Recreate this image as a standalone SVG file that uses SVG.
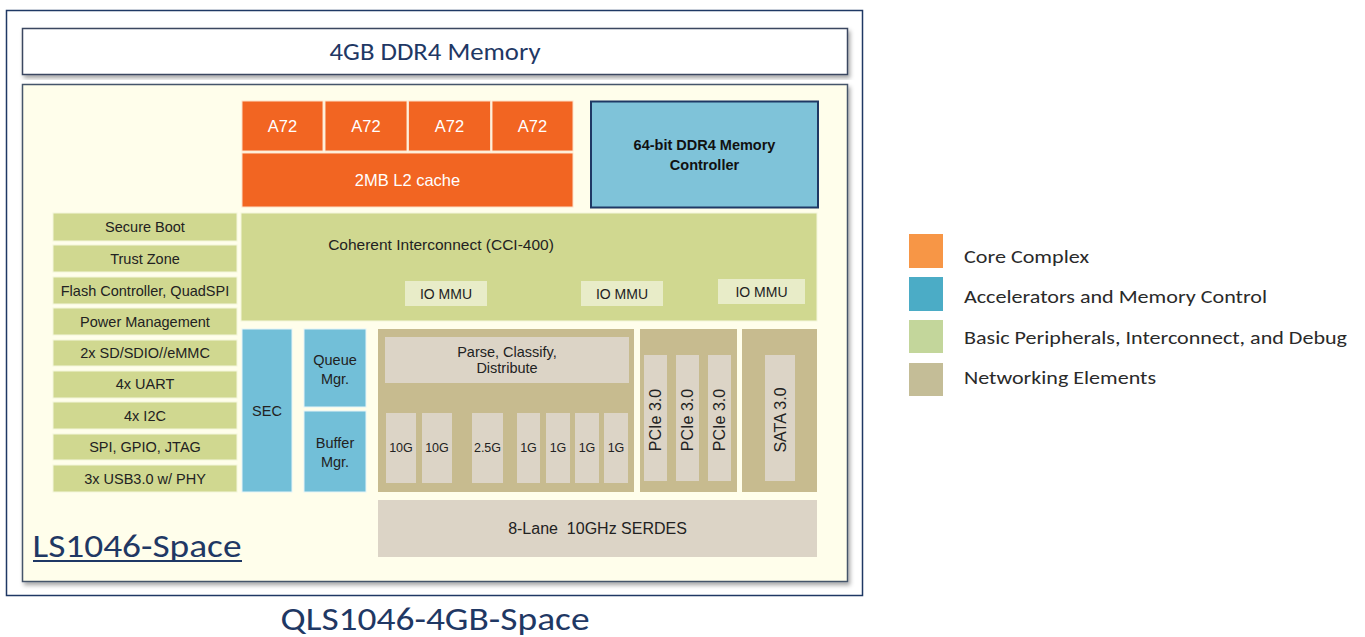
<svg xmlns="http://www.w3.org/2000/svg" width="1365" height="637" viewBox="0 0 1365 637">
<defs>
<filter id="sh" x="-5%" y="-5%" width="110%" height="115%"><feDropShadow dx="2" dy="3" stdDeviation="2" flood-color="#000" flood-opacity="0.35"/></filter>
<style>
.a{font-family:"Liberation Sans",Arial,sans-serif;fill:#222;text-anchor:middle}
.c{font-family:Carlito,"Open Sans","Liberation Sans",sans-serif;fill:#1f3864;text-anchor:middle}
.l{font-family:Carlito,"Open Sans","Liberation Sans",sans-serif;fill:#2a2a2a;font-size:18px}
.core{fill:#f26522;stroke:#fde0c8;stroke-width:1}
.per{fill:#d0d890;stroke:#f4f6dc;stroke-width:1}
.acc{fill:#72bfd8;stroke:#e6f4f8;stroke-width:1}
.net{fill:#c7bb8f}
.nin{fill:#dcd4c6}
.mmu{fill:#e8ecc8}
</style>
</defs>
<rect width="1365" height="637" fill="#fff"/>
<rect x="6.5" y="10.5" width="856" height="585" fill="#fff" stroke="#1f3864" stroke-width="1.5"/>
<g id="memory">
<rect x="22.5" y="28.5" width="825" height="46" fill="#fff" stroke="#3b4660" stroke-width="1.5" filter="url(#sh)"/>
<text class="c" x="435" y="60" font-size="25" textLength="211" lengthAdjust="spacingAndGlyphs">4GB DDR4 Memory</text>
</g>
<g id="soc">
<rect x="22.5" y="84.5" width="825" height="497" fill="#fffeeb" stroke="#44546a" stroke-width="1.5" filter="url(#sh)"/>
<text class="c" x="137" y="557" font-size="33" textLength="209" lengthAdjust="spacingAndGlyphs">LS1046-Space</text>
<rect x="33" y="560" width="209" height="2" fill="#1f3864"/>
</g>
<g id="a72-1"><rect class="core" x="242" y="101" width="81" height="50"/><text class="a" x="282.5" y="132" font-size="16.5" style="fill:#fff">A72</text></g>
<g id="a72-2"><rect class="core" x="325" y="101" width="82" height="50"/><text class="a" x="366" y="132" font-size="16.5" style="fill:#fff">A72</text></g>
<g id="a72-3"><rect class="core" x="408.5" y="101" width="82" height="50"/><text class="a" x="449.5" y="132" font-size="16.5" style="fill:#fff">A72</text></g>
<g id="a72-4"><rect class="core" x="492" y="101" width="81" height="50"/><text class="a" x="532.5" y="132" font-size="16.5" style="fill:#fff">A72</text></g>
<g id="l2"><rect class="core" x="242" y="153" width="331" height="54"/><text class="a" x="407.5" y="186" font-size="16.5" style="fill:#fff">2MB L2 cache</text></g>
<g id="memctrl"><rect x="591" y="101.5" width="227" height="106" fill="#7fc3d9" stroke="#1f3864" stroke-width="2"/>
<text class="a" x="704.5" y="150" font-size="14.5" font-weight="bold" style="fill:#111">64-bit DDR4 Memory</text>
<text class="a" x="704.5" y="170" font-size="14.5" font-weight="bold" style="fill:#111">Controller</text></g>
<g id="periph">
<g id="p1"><rect class="per" x="53" y="213" width="184" height="28"/><text class="a" x="145" y="232" font-size="14.5">Secure Boot</text></g>
<g id="p2"><rect class="per" x="53" y="245" width="184" height="27"/><text class="a" x="145" y="264" font-size="14.5">Trust Zone</text></g>
<g id="p3"><rect class="per" x="53" y="277" width="184" height="27"/><text class="a" x="145" y="296" font-size="14.5">Flash Controller, QuadSPI</text></g>
<g id="p4"><rect class="per" x="53" y="308" width="184" height="27"/><text class="a" x="145" y="327" font-size="14.5">Power Management</text></g>
<g id="p5"><rect class="per" x="53" y="340" width="184" height="26"/><text class="a" x="145" y="358" font-size="14.5">2x SD/SDIO//eMMC</text></g>
<g id="p6"><rect class="per" x="53" y="371" width="184" height="27"/><text class="a" x="145" y="389" font-size="14.5">4x UART</text></g>
<g id="p7"><rect class="per" x="53" y="402" width="184" height="27"/><text class="a" x="145" y="421" font-size="14.5">4x I2C</text></g>
<g id="p8"><rect class="per" x="53" y="434" width="184" height="26"/><text class="a" x="145" y="452" font-size="14.5">SPI, GPIO, JTAG</text></g>
<g id="p9"><rect class="per" x="53" y="465" width="184" height="27"/><text class="a" x="145" y="484" font-size="14.5">3x USB3.0 w/ PHY</text></g>
</g>
<g id="cci"><rect class="per" x="241" y="213" width="576" height="108"/>
<text class="a" x="441" y="250" font-size="15.5">Coherent Interconnect (CCI-400)</text>
<rect class="mmu" x="405" y="281" width="82" height="25"/><text class="a" x="446" y="299" font-size="14">IO MMU</text>
<rect class="mmu" x="581" y="281" width="82" height="25"/><text class="a" x="622" y="299" font-size="14">IO MMU</text>
<rect class="mmu" x="718" y="279" width="87" height="25"/><text class="a" x="761.5" y="297" font-size="14">IO MMU</text>
</g>
<g id="sec"><rect class="acc" x="242" y="329" width="50" height="163"/><text class="a" x="267" y="416" font-size="14.5">SEC</text></g>
<g id="qman"><rect class="acc" x="304" y="329" width="62" height="78"/><text class="a" x="335" y="365" font-size="14.5">Queue</text><text class="a" x="335" y="384" font-size="14.5">Mgr.</text></g>
<g id="bman"><rect class="acc" x="304" y="411" width="62" height="81"/><text class="a" x="335" y="448" font-size="14.5">Buffer</text><text class="a" x="335" y="467" font-size="14.5">Mgr.</text></g>
<g id="fman"><rect class="net" x="378" y="329" width="256" height="163"/>
<rect class="nin" x="385" y="337" width="244" height="46"/>
<text class="a" x="507" y="357" font-size="14.5">Parse, Classify,</text><text class="a" x="507" y="373" font-size="14.5">Distribute</text>
<rect class="nin" x="386" y="413" width="30" height="70"/><text class="a" x="401" y="452" font-size="12.5">10G</text>
<rect class="nin" x="422" y="413" width="30" height="70"/><text class="a" x="437" y="452" font-size="12.5">10G</text>
<rect class="nin" x="472" y="413" width="31" height="70"/><text class="a" x="487.5" y="452" font-size="12.5">2.5G</text>
<rect class="nin" x="517" y="413" width="23" height="70"/><text class="a" x="528.5" y="452" font-size="12.5">1G</text>
<rect class="nin" x="546" y="413" width="24" height="70"/><text class="a" x="558" y="452" font-size="12.5">1G</text>
<rect class="nin" x="575" y="413" width="24" height="70"/><text class="a" x="587" y="452" font-size="12.5">1G</text>
<rect class="nin" x="604" y="413" width="24" height="70"/><text class="a" x="616" y="452" font-size="12.5">1G</text>
</g>
<g id="pcie"><rect class="net" x="640" y="329" width="97" height="163"/>
<rect class="nin" x="644" y="355" width="23" height="126"/><text class="a" transform="translate(661 420) rotate(-90)" font-size="16">PCIe 3.0</text>
<rect class="nin" x="676" y="355" width="23" height="126"/><text class="a" transform="translate(693 420) rotate(-90)" font-size="16">PCIe 3.0</text>
<rect class="nin" x="708" y="355" width="23" height="126"/><text class="a" transform="translate(725 420) rotate(-90)" font-size="16">PCIe 3.0</text>
</g>
<g id="sata"><rect class="net" x="742" y="329" width="75" height="163"/>
<rect class="nin" x="765" y="355" width="30" height="126"/><text class="a" transform="translate(786 420) rotate(-90)" font-size="16">SATA 3.0</text>
</g>
<g id="serdes"><rect class="nin" x="378" y="500" width="439" height="57"/><text class="a" x="597.5" y="534" font-size="16" xml:space="preserve">8-Lane  10GHz SERDES</text></g>
<text id="title" class="c" x="435" y="630" font-size="32" textLength="309" lengthAdjust="spacingAndGlyphs">QLS1046-4GB-Space</text>
<g id="legend">
<rect x="909" y="234" width="34" height="34" fill="#f79646"/>
<rect x="909" y="277" width="34" height="34" fill="#4bacc6"/>
<rect x="909" y="320" width="34" height="33" fill="#c3d69b"/>
<rect x="909" y="363" width="34" height="33" fill="#c4bd97"/>
<text class="l" x="964" y="263" textLength="125" lengthAdjust="spacingAndGlyphs">Core Complex</text>
<text class="l" x="964" y="303" textLength="303" lengthAdjust="spacingAndGlyphs">Accelerators and Memory Control</text>
<text class="l" x="964" y="344" textLength="383" lengthAdjust="spacingAndGlyphs">Basic Peripherals, Interconnect, and Debug</text>
<text class="l" x="964" y="384" textLength="192" lengthAdjust="spacingAndGlyphs">Networking Elements</text>
</g>
<g id="connectors"></g>
</svg>
